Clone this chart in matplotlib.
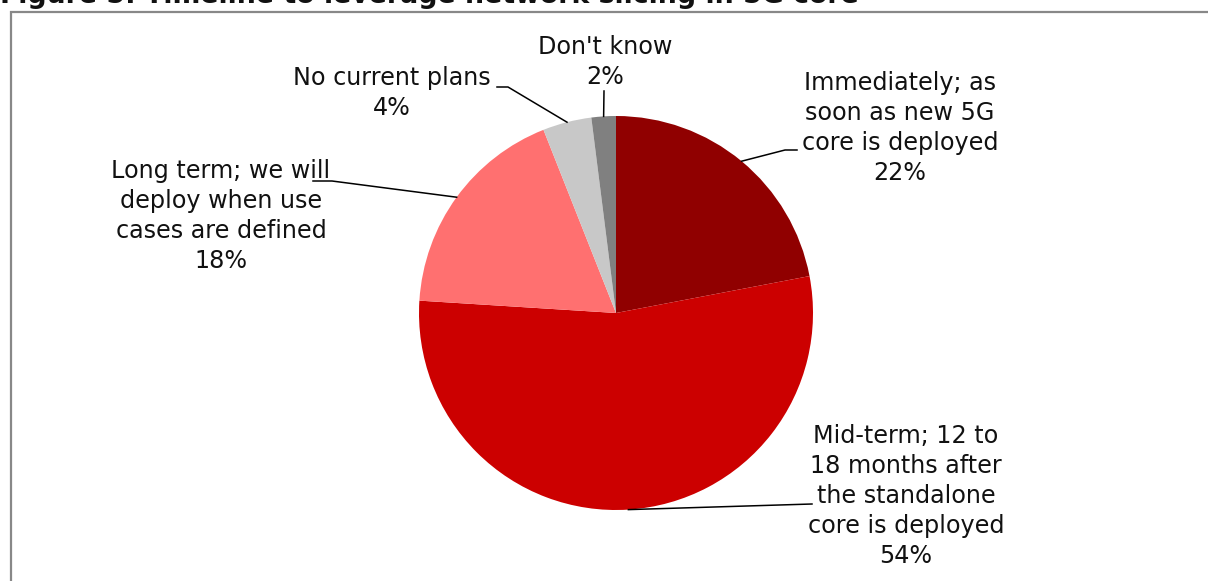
import matplotlib.pyplot as plt
import numpy as np
from matplotlib.patches import Rectangle

# survey answers, clockwise from 12 o'clock
labels = ["Immediately; as\nsoon as new 5G\ncore is deployed",
          "Mid-term; 12 to\n18 months after\nthe standalone\ncore is deployed",
          "Long term; we will\ndeploy when use\ncases are defined",
          "No current plans",
          "Don't know"]
shares = [22, 54, 18, 4, 2]
colors = ["#900000", "#CC0000", "#FF7070", "#C8C8C8", "#808080"]

# label centre, elbow and end of leader line (pixels from top-left)
text_pos = [(900, 128), (906, 496), (221, 216), (392, 93), (605, 62)]
elbows = [[(785, 150), (797, 150)], [(812, 504)], [(332, 181), (313, 181)],
          [(508, 87), (497, 87)], [(604, 91)]]

W, H = 1208, 581
fig = plt.figure(figsize=(W / 100, H / 100), dpi=100)

cx, cy, r = 616, 313, 197
ax = fig.add_axes([(cx - r) / W, (H - cy - r) / H, 2 * r / W, 2 * r / H])
wedges, _ = ax.pie(shares, colors=colors, startangle=90, counterclock=False,
                   wedgeprops=dict(linewidth=0))
ax.set_xlim(-1, 1)
ax.set_ylim(-1, 1)
ax.set_aspect('equal')

lay = fig.add_axes([0, 0, 1, 1], zorder=3)
lay.set_xlim(0, W)
lay.set_ylim(H, 0)
lay.axis('off')
lay.patch.set_alpha(0)

for w, lab, val, tp, elb in zip(wedges, labels, shares, text_pos, elbows):
    ang = np.deg2rad((w.theta1 + w.theta2) / 2)
    p = ax.transData.transform((np.cos(ang), np.sin(ang)))
    p = lay.transData.inverted().transform(p)
    pts = [tuple(p)] + elb
    lay.plot([q[0] for q in pts], [q[1] for q in pts], color='black', lw=1.1)
    lay.text(tp[0], tp[1], lab + "\n" + str(val) + "%", ha='center', va='center',
             fontsize=17.2, color='#111111', linespacing=1.32)

# chart frame (only top and left edges visible)
fig.patches.append(Rectangle((10.5 / W, -0.1), 1.2, (H - 11.5) / H + 0.1,
                             transform=fig.transFigure, fill=False,
                             edgecolor='#888888', lw=1.6))

fig.text(0, 1 - 3 / H, "Figure 5: Timeline to leverage network slicing in 5G core",
         ha='left', va='baseline', fontsize=19.3, fontweight='bold', color='#111111')

fig.savefig("out.png", dpi=100)
